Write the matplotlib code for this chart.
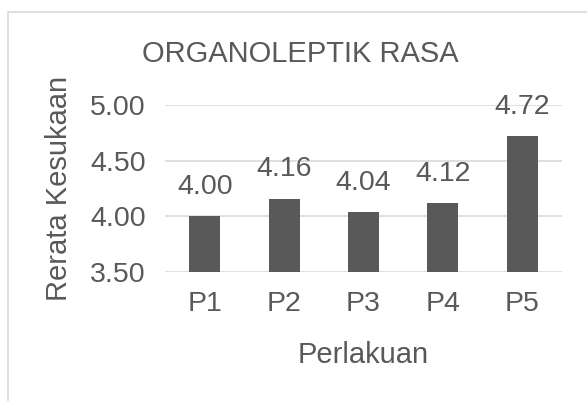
import matplotlib
matplotlib.use("Agg")
import matplotlib.pyplot as plt
from matplotlib.patches import Rectangle

categories = ["P1", "P2", "P3", "P4", "P5"]
values = [4.00, 4.16, 4.04, 4.12, 4.72]
yticks = [3.50, 4.00, 4.50, 5.00]
title = "ORGANOLEPTIK RASA"
xlabel = "Perlakuan"
ylabel = "Rerata Kesukaan"

plt.rcParams['font.family'] = ['Liberation Sans', 'DejaVu Sans']
txt = "#595959"
W, H = 587, 401
fig = plt.figure(figsize=(W/100, H/100), dpi=100)

# outer chart border
fig.patches.append(Rectangle((8/W, -0.1), 1.2, 1 - 12/H + 0.1, transform=fig.transFigure,
                             fill=False, edgecolor="#d9d9d9", linewidth=1.2))

ax = fig.add_axes([165/W, 1 - 272/H, (562-165)/W, (272-105)/H])
x = range(len(categories))
bars = ax.bar(x, values, width=0.39, color="#595959", zorder=3)
ax.set_xlim(-0.5, 4.5)
ax.set_ylim(3.5, 5.0)
ax.set_yticks(yticks)
ax.set_yticklabels([f"{v:.2f}" for v in yticks])
ax.set_xticks(list(x))
ax.set_xticklabels(categories)
ax.grid(axis="y", color="#d9d9d9", linewidth=1.2, zorder=0)
for s in ax.spines.values():
    s.set_visible(False)
ax.tick_params(length=0, labelsize=20.5, colors=txt)
ax.tick_params(axis="y", pad=14)
ax.tick_params(axis="x", pad=14)
for xi, v in zip(x, values):
    ax.annotate(f"{v:.2f}", (xi, v), xytext=(0, 16), textcoords="offset points",
                ha="center", va="baseline", fontsize=20.5, color=txt, zorder=4)

fig.text(300/W, 1 - 54/H, title, ha="center", va="center", fontsize=21, color=txt)
fig.text(363/W, 1 - 355/H, xlabel, ha="center", va="center", fontsize=21, color=txt)
fig.text(59/W, 1 - 188/H, ylabel, ha="center", va="center", rotation=90, fontsize=21, color=txt)

fig.savefig("out.png", dpi=100)
